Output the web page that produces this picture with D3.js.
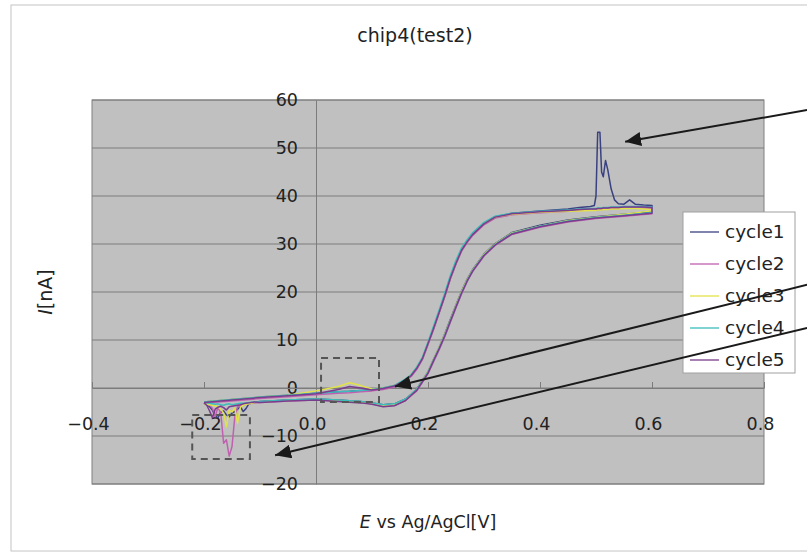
<!DOCTYPE html>
<html>
<head>
<meta charset="utf-8">
<script src="https://cdn.jsdelivr.net/npm/d3@7"></script>
<style>
    body { margin: 0; background: #ffffff; }
    svg text { font-family: "DejaVu Sans", sans-serif; fill: #222; }
</style>
</head>
<body>
<script>
// potentials [V] of the forward sweep (lower branch) and of the return sweep (upper branch)
const eFwd = [-0.20, -0.195, -0.19, -0.185, -0.18, -0.175, -0.17, -0.165, -0.16, -0.155, -0.15, -0.145, -0.14, -0.135, -0.13, -0.125, -0.12, -0.11,
    -0.10, -0.05, 0.0, 0.04, 0.08, 0.10, 0.12, 0.14, 0.16, 0.17, 0.18, 0.19, 0.20, 0.21, 0.22, 0.23, 0.24, 0.25, 0.26, 0.27, 0.28, 0.30, 0.32, 0.35, 0.40, 0.45, 0.50, 0.55, 0.60];
const eRev = [0.60, 0.585, 0.57, 0.56, 0.55, 0.54, 0.533, 0.527, 0.521, 0.517, 0.513, 0.510, 0.507, 0.503, 0.500, 0.497, 0.49, 0.47, 0.45, 0.40,
    0.35, 0.32, 0.30, 0.28, 0.27, 0.26, 0.25, 0.24, 0.23, 0.22, 0.21, 0.20, 0.19, 0.18, 0.17, 0.16, 0.14, 0.12, 0.10, 0.08, 0.06, 0.04, 0.0, -0.05, -0.10, -0.15, -0.20];

// currents [nA]
const cycle1Fwd = [-3.2, -3.5, -3.9, -4.6, -5.8, -6.2, -5.0, -4.8, -5.6, -6.0, -5.2, -4.9, -4.4, -3.9, -4.9, -4.3, -3.3, -3.0,
    -2.8, -2.5, -2.3, -2.5, -2.8, -3.1, -3.5, -3.3, -2.3, -1.3, -0.2, 1.6, 3.4, 6.0, 8.5, 11.3, 14.3, 17.3, 20.2, 22.7, 24.7, 27.9, 30.1, 32.4, 33.9, 35.0, 35.7, 36.2, 36.7];
const cycle2Fwd = [-3.2, -3.3, -3.6, -4.2, -6.0, -3.9, -5.3, -11.5, -10.8, -14.2, -12.2, -6.0, -3.9, -3.6, -3.5, -3.4, -3.3, -3.1,
    -3.0, -2.7, -2.5, -2.7, -3.0, -3.3, -3.8, -3.6, -2.6, -1.6, -0.6, 1.2, 3.0, 5.5, 8.0, 10.7, 13.7, 16.7, 19.6, 22.2, 24.3, 27.5, 29.7, 32.0, 33.5, 34.6, 35.3, 35.8, 36.3];
const cycle3Fwd = [-3.3, -3.4, -3.5, -3.6, -3.7, -3.9, -4.5, -5.2, -8.1, -4.6, -5.0, -4.2, -7.3, -4.0, -3.6, -3.4, -3.3, -3.0,
    -2.9, -2.6, -2.4, -2.6, -2.9, -3.2, -3.6, -3.4, -2.4, -1.4, -0.3, 1.5, 3.4, 5.9, 8.5, 11.2, 14.1, 17.2, 20.1, 22.6, 24.6, 27.8, 30.0, 32.3, 33.7, 34.9, 35.6, 36.2, 36.9];
const cycle4Fwd = [-3.0, -3.1, -3.2, -3.3, -3.4, -3.3, -3.5, -3.6, -3.4, -3.3, -3.5, -3.4, -3.3, -3.2, -3.2, -3.1, -3.0, -2.9,
    -2.8, -2.5, -2.3, -2.5, -2.8, -3.1, -3.5, -3.3, -2.3, -1.3, -0.3, 1.4, 3.3, 5.8, 8.3, 11.0, 14.0, 17.0, 19.9, 22.4, 24.5, 27.7, 29.9, 32.2, 33.7, 34.8, 35.5, 36.0, 36.5];
const cycle5Fwd = [-3.1, -3.6, -4.8, -6.2, -4.4, -4.0, -3.8, -4.1, -4.6, -3.9, -3.8, -3.7, -3.6, -3.5, -3.3, -3.2, -3.1, -2.9,
    -3.0, -2.7, -2.5, -2.8, -3.1, -3.4, -3.9, -3.7, -2.6, -1.5, -0.5, 1.3, 3.1, 5.7, 8.2, 10.9, 13.9, 16.9, 19.8, 22.3, 24.4, 27.6, 29.8, 32.1, 33.6, 34.7, 35.4, 35.9, 36.4];

const cycle1Rev = [38.0, 38.1, 38.3, 39.2, 38.3, 38.4, 39.2, 41.5, 45.5, 47.4, 44.0, 45.0, 53.3, 53.3, 40.0, 38.0, 37.8, 37.6, 37.3, 36.9,
    36.4, 35.7, 34.3, 32.1, 30.6, 28.8, 26.1, 23.0, 19.3, 15.9, 12.5, 9.3, 6.2, 4.2, 2.7, 1.8, 0.5, 0.0, -0.3, -0.5, -0.7, -0.8, -1.1, -1.5, -1.9, -2.4, -2.9];
const cycle2Rev = [37.4, 37.5, 37.5, 37.5, 37.5, 37.4, 37.4, 37.4, 37.3, 37.3, 37.3, 37.2, 37.2, 37.2, 37.1, 37.1, 37.1, 37.0, 36.8, 36.5,
    36.1, 35.4, 34.0, 31.8, 30.3, 28.5, 25.8, 22.7, 19.0, 15.6, 12.2, 9.0, 5.9, 3.9, 2.4, 1.5, 0.2, -0.3, -0.6, -0.8, -1.0, -1.1, -1.4, -1.8, -2.2, -2.7, -3.1];
const cycle3Rev = [37.2, 37.3, 37.4, 37.4, 37.4, 37.3, 37.3, 37.3, 37.2, 37.2, 37.2, 37.1, 37.1, 37.1, 37.0, 37.0, 37.0, 36.9, 36.8, 36.6,
    36.2, 35.6, 34.3, 32.2, 30.7, 28.9, 26.2, 23.1, 19.4, 16.0, 12.6, 9.4, 6.3, 4.3, 2.8, 1.8, 0.5, 0.0, -0.2, 0.5, 1.1, 0.3, -0.6, -1.5, -1.9, -2.4, -2.9];
const cycle4Rev = [37.7, 37.8, 37.8, 37.8, 37.8, 37.7, 37.7, 37.7, 37.6, 37.6, 37.6, 37.5, 37.5, 37.5, 37.4, 37.4, 37.4, 37.3, 37.1, 36.8,
    36.4, 35.8, 34.5, 32.4, 30.9, 29.2, 26.6, 23.5, 19.8, 16.3, 12.9, 9.6, 6.4, 4.4, 2.8, 1.9, 0.5, 0.0, -0.3, -0.5, -0.7, -0.8, -1.1, -1.5, -1.9, -2.4, -2.9];
const cycle5Rev = [37.6, 37.7, 37.7, 37.7, 37.7, 37.6, 37.6, 37.6, 37.5, 37.5, 37.5, 37.4, 37.4, 37.4, 37.3, 37.3, 37.3, 37.2, 37.0, 36.7,
    36.3, 35.6, 34.2, 32.0, 30.5, 28.7, 26.0, 22.9, 19.2, 15.8, 12.4, 9.2, 6.1, 4.1, 2.6, 1.7, 0.4, -0.1, -0.4, 0.0, 0.3, -0.3, -1.2, -1.6, -2.0, -2.5, -3.0];

const seriesNames = ["cycle1", "cycle2", "cycle3", "cycle4", "cycle5"];
const fwdValues = [cycle1Fwd, cycle2Fwd, cycle3Fwd, cycle4Fwd, cycle5Fwd];
const revValues = [cycle1Rev, cycle2Rev, cycle3Rev, cycle4Rev, cycle5Rev];

const xTicks = [-0.4, -0.2, 0.0, 0.2, 0.4, 0.6, 0.8];
const yTicks = [-20, -10, 0, 10, 20, 30, 40, 50, 60];

const colors = ["#3a4180", "#c060b0", "#e2e24a", "#3cbcbc", "#7a3c8c"];

const width = 807, height = 553;
const plot = {left: 92, right: 764, top: 100, bottom: 484};

const svg = d3.select("body").append("svg")
    .attr("width", width)
    .attr("height", height);

// outer chart frame
svg.append("rect")
    .attr("x", 11).attr("y", 5)
    .attr("width", 900).attr("height", 546)
    .style("fill", "none")
    .style("stroke", "#c4c4c4");

const x = d3.scaleLinear().domain([-0.4, 0.8]).range([plot.left, plot.right]);
const y = d3.scaleLinear().domain([-20, 60]).range([plot.bottom, plot.top]);

svg.append("rect")
    .attr("x", plot.left).attr("y", plot.top)
    .attr("width", plot.right - plot.left).attr("height", plot.bottom - plot.top)
    .style("fill", "#c0c0c0")
    .style("stroke", "#808080");

// horizontal gridlines
svg.append("g").selectAll("line")
    .data(yTicks)
    .enter()
    .append("line")
    .attr("x1", plot.left).attr("x2", plot.right)
    .attr("y1", d => y(d)).attr("y2", d => y(d))
    .style("stroke", "#7c7c7c");

// y axis sits at E = 0, x axis at I = 0
const yAxis = svg.append("g")
    .attr("transform", `translate(${x(0)},0)`)
    .call(d3.axisLeft(y).tickValues(yTicks).tickSize(0).tickPadding(18).tickFormat(d3.format("d")));
yAxis.select(".domain").style("stroke", "#7c7c7c");
yAxis.selectAll("text").style("font-size", "17.5px").style("font-family", "DejaVu Sans");

const xAxis = svg.append("g")
    .attr("transform", `translate(0,${y(0)})`)
    .call(d3.axisBottom(x).tickValues(xTicks).tickSizeInner(-6).tickSizeOuter(0).tickFormat(d3.format(".1f")));
xAxis.select(".domain").style("stroke", "#7c7c7c");
xAxis.selectAll("line").style("stroke", "#7c7c7c");
xAxis.selectAll("text")
    .attr("y", 42).attr("dy", 0).attr("dx", -4)
    .style("font-size", "17.5px").style("font-family", "DejaVu Sans");

// cv loops
const line = d3.line()
    .x(d => x(d[0]))
    .y(d => y(d[1]));

const loops = seriesNames.map((name, i) => {
    const fwd = eFwd.map((e, j) => [e, fwdValues[i][j]]);
    const rev = eRev.map((e, j) => [e, revValues[i][j]]);
    return fwd.concat(rev);
});

svg.append("g").selectAll("path")
    .data(loops)
    .enter()
    .append("path")
    .attr("d", line)
    .style("fill", "none")
    .style("stroke", (d, i) => colors[i])
    .style("stroke-width", 1.5)
    .style("stroke-linejoin", "round");

// dashed boxes around the small waves
const boxes = [
    {e0: 0.009, e1: 0.1125, i0: 6.25, i1: -2.9},
    {e0: -0.221, e1: -0.118, i0: -5.6, i1: -14.8}
];
svg.append("g").selectAll("rect")
    .data(boxes)
    .enter()
    .append("rect")
    .attr("x", d => x(d.e0)).attr("y", d => y(d.i0))
    .attr("width", d => x(d.e1) - x(d.e0)).attr("height", d => y(d.i1) - y(d.i0))
    .style("fill", "none")
    .style("stroke", "#555")
    .style("stroke-width", 2)
    .style("stroke-dasharray", "7,5");

// legend
const legend = svg.append("g");
legend.append("rect")
    .attr("x", 683).attr("y", 212)
    .attr("width", 112).attr("height", 161)
    .style("fill", "#ffffff")
    .style("stroke", "#a0a0a0");
const items = legend.selectAll("g.item")
    .data(seriesNames)
    .enter()
    .append("g")
    .attr("class", "item")
    .attr("transform", (d, i) => `translate(0,${238 + i * 32})`);
items.append("line")
    .attr("x1", 690).attr("x2", 719)
    .attr("y1", -6).attr("y2", -6)
    .style("stroke", (d, i) => colors[i])
    .style("stroke-width", 1.3);
items.append("text")
    .attr("x", 725)
    .style("font-size", "18.5px")
    .text(d => d);

// titles
svg.append("text")
    .attr("x", 415).attr("y", 42)
    .attr("text-anchor", "middle")
    .style("font-size", "19px")
    .text("chip4(test2)");

const xTitle = svg.append("text")
    .attr("x", (plot.left + plot.right) / 2).attr("y", 528)
    .attr("text-anchor", "middle")
    .style("font-size", "17.5px");
xTitle.append("tspan").style("font-style", "italic").text("E");
xTitle.append("tspan").text(" vs Ag/AgCl[V]");

const yTitle = svg.append("text")
    .attr("transform", `translate(52,${(plot.top + plot.bottom) / 2}) rotate(-90)`)
    .attr("text-anchor", "middle")
    .style("font-size", "19px");
yTitle.append("tspan").style("font-style", "italic").text("I");
yTitle.append("tspan").text("[nA]");

// arrows pointing at the features, drawn over everything
svg.append("defs").append("marker")
    .attr("id", "head")
    .attr("markerUnits", "userSpaceOnUse")
    .attr("markerWidth", 18).attr("markerHeight", 14)
    .attr("refX", 16).attr("refY", 7)
    .attr("orient", "auto")
    .append("path")
    .attr("d", "M0,0 L16,7 L0,14 Z")
    .style("fill", "#1a1a1a");

const arrows = [
    {from: [0.877, 57.9], to: [0.552, 51.3]},
    {from: [0.877, 21.5], to: [0.141, 0.3]},
    {from: [0.877, 12.5], to: [-0.073, -14.0]}
];
svg.append("g").selectAll("line")
    .data(arrows)
    .enter()
    .append("line")
    .attr("x1", d => x(d.from[0])).attr("y1", d => y(d.from[1]))
    .attr("x2", d => x(d.to[0])).attr("y2", d => y(d.to[1]))
    .style("stroke", "#1a1a1a")
    .style("stroke-width", 2)
    .attr("marker-end", "url(#head)");
</script>
</body>
</html>
